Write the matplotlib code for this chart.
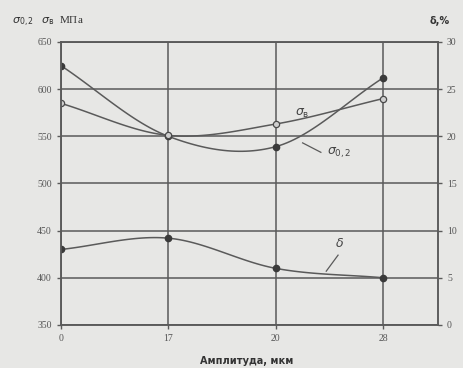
import numpy as np
import matplotlib
matplotlib.use('Agg')
import matplotlib.pyplot as plt

# Data
amplitudes = ['0', '17', '20', '28']
sigma_02 = [625, 550, 539, 612]   # MPa
sigma_b = [585, 551, 563, 590]    # MPa
delta = [8.0, 9.2, 6.0, 5.0]      # %

plt.rcParams['font.family'] = ['Liberation Serif', 'DejaVu Serif']

ink = '#5a5a5a'
bg = '#e7e7e5'


def smooth(x, y, n=30):
    # Catmull-Rom spline through the points (like Excel's smoothed line)
    x = np.asarray(x, float)
    y = np.asarray(y, float)
    px = np.concatenate([[2 * x[0] - x[1]], x, [2 * x[-1] - x[-2]]])
    py = np.concatenate([[2 * y[0] - y[1]], y, [2 * y[-1] - y[-2]]])
    xs, ys = [], []
    t = np.linspace(0, 1, n)
    for i in range(1, len(px) - 2):
        for p, out in ((px, xs), (py, ys)):
            p0, p1, p2, p3 = p[i - 1], p[i], p[i + 1], p[i + 2]
            out.append(0.5 * (2 * p1 + (-p0 + p2) * t
                              + (2 * p0 - 5 * p1 + 4 * p2 - p3) * t ** 2
                              + (-p0 + 3 * p1 - 3 * p2 + p3) * t ** 3))
    return np.concatenate(xs), np.concatenate(ys)


fig = plt.figure(figsize=(4.64, 3.68), dpi=100, facecolor=bg)
ax = fig.add_axes([0.131, 0.117, 0.813, 0.769], facecolor=bg)
x = np.arange(len(amplitudes))

sx, sy = smooth(x, sigma_02)
ax.plot(sx, sy, color=ink, lw=1.1)
ax.plot(x, sigma_02, 'o', color='#3a3a3a', ms=4.5)

bx, by = smooth(x, sigma_b)
ax.plot(bx, by, color=ink, lw=1.1)
ax.plot(x, sigma_b, 'o', mfc='#cfcfcf', mec='#4a4a4a', ms=4.5, mew=0.9)

ax.set_xlim(0, 3.51)
ax.set_ylim(350, 650)
ax.set_yticks(np.arange(350, 651, 50))
ax.set_xticks(x)
ax.set_xticklabels(amplitudes)
ax.grid(True, color=ink, lw=1.1)
ax.set_axisbelow(True)
for s in ax.spines.values():
    s.set_color(ink)
    s.set_linewidth(1.1)
ax.tick_params(colors='#555555', labelsize=7, length=3, width=1, color=ink)

ax2 = ax.twinx()
ax2.set_ylim(0, 30)
ax2.set_yticks(np.arange(0, 31, 5))
dx, dy = smooth(x, delta)
ax2.plot(dx, dy, color=ink, lw=1.1)
ax2.plot(x, delta, 'o', color='#3a3a3a', ms=4.5)
ax2.tick_params(colors='#555555', labelsize=7, length=3, width=1, color=ink)
for s in ax2.spines.values():
    s.set_color(ink)
    s.set_linewidth(1.1)

# curve labels
ax.text(2.18, 572, r'$\sigma_{\rm в}$', fontsize=9, color='#444444')
ax.text(2.48, 530, r'$\sigma_{0,2}$', fontsize=9, color='#444444')
ax.plot([2.25, 2.42], [543, 533], color=ink, lw=0.9)
ax2.text(2.55, 8.3, r'$\delta$', fontsize=9, color='#444444')
ax2.plot([2.47, 2.58], [5.7, 7.4], color=ink, lw=0.9)

fig.text(0.025, 0.935, r'$\sigma_{0,2}$   $\sigma_{\rm в}$  МПа', fontsize=8, color='#333333')
fig.text(0.925, 0.935, 'δ,%', fontsize=7, color='#333333', fontweight='bold',
         family=['DejaVu Sans'])
fig.text(0.43, 0.01, 'Амплитуда, мкм', fontsize=7, color='#333333', fontweight='bold',
         family=['DejaVu Sans'])

plt.savefig('out.png', dpi=100, facecolor=bg)
